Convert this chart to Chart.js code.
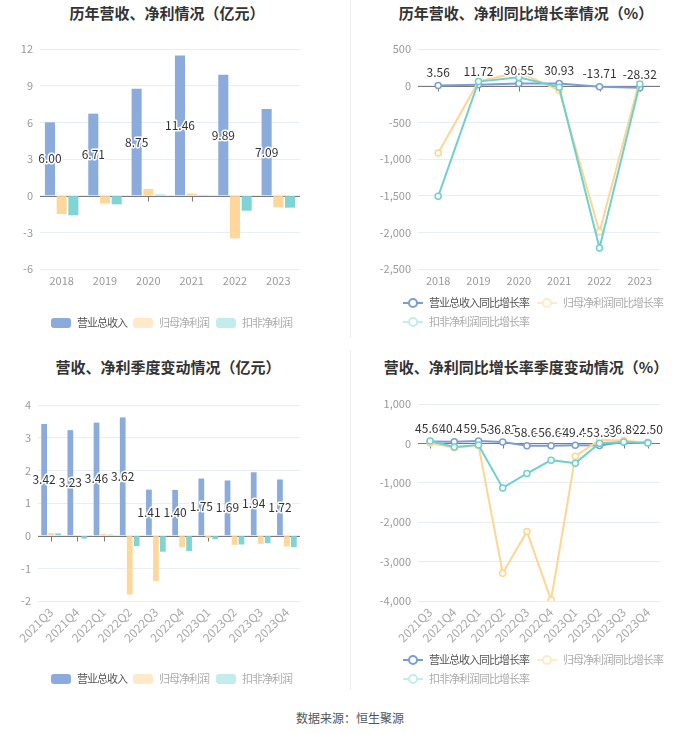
<!DOCTYPE html>
<html>
<head>
<meta charset="utf-8">
<script src="https://cdn.jsdelivr.net/npm/chart.js@4.4.1/dist/chart.umd.min.js"></script>
<style>
    body { margin: 0; width: 700px; height: 734px; background: #fff; position: relative; overflow: hidden;
           font-family: "Noto Sans CJK SC", "Noto Sans", sans-serif; }
    canvas { position: absolute; }
    .title { position: absolute; width: 340px; margin-left: -170px; text-align: center;
             font-size: 15px; font-weight: bold; color: #333; line-height: 20px; }
    .divider { position: absolute; left: 350px; width: 1px; background: #eeeeee; }
    .legend-item { position: absolute; font-size: 11px; letter-spacing: -1px; line-height: 14px; color: #aaa; white-space: nowrap; }
    .legend-item.on { color: #555; }
    .swatch { display: inline-block; width: 20px; height: 10px; border-radius: 3px; vertical-align: -1px; margin-right: 6px; }
    .lineicon { display: inline-block; position: relative; width: 20px; height: 10px; vertical-align: -1px; margin-right: 6px; }
    .lineicon i { position: absolute; left: 0; top: 4px; width: 20px; height: 2px; }
    .lineicon b { position: absolute; left: 5px; top: 0; width: 6px; height: 6px; border-radius: 50%; border: 2px solid; background: #fff; }
    .source { position: absolute; top: 709px; left: 0; width: 700px; text-align: center; font-size: 12px; color: #555; }
</style>
</head>
<body>
<div class="divider" style="top:0;height:338px"></div>
<div class="divider" style="top:350px;height:340px"></div>

<div class="title" style="left:167px;top:3px">历年营收、净利情况（亿元）</div>
<div class="title" style="left:526px;top:3px">历年营收、净利同比增长率情况（%）</div>
<div class="title" style="left:168px;top:357px">营收、净利季度变动情况（亿元）</div>
<div class="title" style="left:526px;top:357px">营收、净利同比增长率季度变动情况（%）</div>

<canvas id="yearBar" width="350" height="340" style="left:0;top:0"></canvas>
<canvas id="yearGrowth" width="350" height="340" style="left:350px;top:0"></canvas>
<canvas id="quarterBar" width="350" height="345" style="left:0;top:350px"></canvas>
<canvas id="quarterGrowth" width="350" height="345" style="left:350px;top:350px"></canvas>

<div id="legends"></div>
<div class="source">数据来源：恒生聚源</div>

<script>
// Annual data (亿元)
const years = ['2018', '2019', '2020', '2021', '2022', '2023'];
const revenue = [6.00, 6.71, 8.75, 11.46, 9.89, 7.09];
const netProfit = [-1.50, -0.65, 0.55, 0.18, -3.49, -0.95];
const deductedProfit = [-1.61, -0.71, 0.09, 0.06, -1.23, -0.98];

// Annual growth (%)
const revenueGrowth = [3.56, 11.72, 30.55, 30.93, -13.71, -28.32];
const netGrowth = [-918, 57, 184, -64, -1995, 80];
const deductedGrowth = [-1509, 56, 113, -20, -2214, 22];

// Quarterly data (亿元)
const quarters = ['2021Q3', '2021Q4', '2022Q1', '2022Q2', '2022Q3', '2022Q4', '2023Q1', '2023Q2', '2023Q3', '2023Q4'];
const qRevenue = [3.42, 3.23, 3.46, 3.62, 1.41, 1.40, 1.75, 1.69, 1.94, 1.72];
const qNetProfit = [0.08, 0.01, 0.05, -1.80, -1.39, -0.35, -0.07, -0.28, -0.25, -0.33];
const qDeductedProfit = [0.07, -0.09, 0.03, -0.32, -0.49, -0.47, -0.11, -0.27, -0.23, -0.35];

// Quarterly growth (%)
const qRevenueGrowth = [45.60, 40.49, 59.54, 36.83, -58.66, -56.63, -49.40, -53.35, 36.89, 22.50];
const qNetGrowth = [10, -110, -50, -3295, -2234, -3975, -323, 85, 76, 8];
const qDeductedGrowth = [60, -93, -42, -1130, -764, -425, -501, 5, 35, 10];

// Axis ticks
const yearBarTicks = { min: -6, max: 12, step: 3 };
const yearGrowthTicks = { min: -2500, max: 500, step: 500 };
const quarterBarTicks = { min: -2, max: 4, step: 1 };
const quarterGrowthTicks = { min: -4000, max: 1000, step: 1000 };

const seriesNames = ['营业总收入', '归母净利润', '扣非净利润'];
const growthNames = ['营业总收入同比增长率', '归母净利润同比增长率', '扣非净利润同比增长率'];

const FONT = '"Noto Sans CJK SC", "Noto Sans", sans-serif';
const colors = ['#8aabdb', '#ffd79a', '#7fd5d6'];
const lineColors = ['#7b9dd6', '#ffd591', '#6fd0d0'];
const fadedColors = ['#8aabdb', '#ffe9c9', '#c3ecec'];

// Zero line with little ticks at each category
const zeroAxis = {
    id: 'zeroAxis',
    beforeDatasetsDraw(chart) {
        const { ctx, chartArea, scales: { x, y } } = chart;
        const y0 = Math.round(y.getPixelForValue(0)) + 0.5;
        ctx.save();
        ctx.strokeStyle = '#7a7a7a';
        ctx.lineWidth = 1;
        ctx.beginPath();
        ctx.moveTo(chartArea.left, y0);
        ctx.lineTo(chartArea.right, y0);
        chart.data.labels.forEach((label, i) => {
            const px = Math.round(x.getPixelForValue(i)) + 0.5;
            ctx.moveTo(px, y0);
            ctx.lineTo(px, y0 + 5);
        });
        ctx.stroke();
        ctx.restore();
    }
};

// Value labels for the first series
const valueLabels = {
    id: 'valueLabels',
    afterDatasetsDraw(chart, args, opts) {
        const { ctx } = chart;
        const meta = chart.getDatasetMeta(0);
        const values = chart.data.datasets[0].data;
        ctx.save();
        ctx.font = '12px ' + FONT;
        ctx.textAlign = 'center';
        ctx.textBaseline = 'middle';
        ctx.lineJoin = 'round';
        meta.data.forEach((el, i) => {
            const py = opts.mode === 'bar' ? (el.y + el.base) / 2 : el.y - 13;
            const text = values[i].toFixed(2);
            ctx.strokeStyle = '#fff';
            ctx.lineWidth = 3;
            ctx.strokeText(text, el.x, py);
            ctx.fillStyle = '#333';
            ctx.fillText(text, el.x, py);
        });
        ctx.restore();
    }
};

function formatTick(v) {
    return v.toLocaleString('en-US');
}

function scalesFor(ticks, yWidth, xHeight, rotate) {
    return {
        x: {
            offset: true,
            grid: { display: false, drawTicks: false },
            border: { display: false },
            ticks: {
                color: rotate ? '#aaa' : '#999', font: { size: rotate ? 12 : 11, family: FONT }, padding: rotate ? 4 : 5,
                autoSkip: false, maxRotation: rotate ? 45 : 0, minRotation: rotate ? 45 : 0
            },
            afterFit: (scale) => { scale.height = xHeight; }
        },
        y: {
            min: ticks.min,
            max: ticks.max,
            grid: { color: '#e8ecf4', drawTicks: false },
            border: { display: false },
            ticks: {
                stepSize: ticks.step, color: '#999', font: { size: 11, family: FONT }, padding: 7,
                callback: (v) => formatTick(v)
            },
            afterFit: (scale) => { scale.width = yWidth; }
        }
    };
}

function drawBarChart(id, labels, series, ticks, layout, barOpts) {
    const ctx = document.getElementById(id).getContext('2d');
    return new Chart(ctx, {
        type: 'bar',
        data: {
            labels: labels,
            datasets: series.map((data, i) => ({
                label: seriesNames[i],
                data: data,
                backgroundColor: colors[i],
                categoryPercentage: barOpts.cat,
                barPercentage: barOpts.bar
            }))
        },
        options: {
            responsive: false,
            animation: false,
            layout: { padding: layout.padding },
            plugins: {
                legend: { display: false },
                tooltip: { enabled: false },
                valueLabels: { mode: 'bar' }
            },
            scales: scalesFor(ticks, layout.yWidth, layout.xHeight, layout.rotate)
        },
        plugins: [zeroAxis, valueLabels]
    });
}

function drawLineChart(id, labels, series, ticks, layout) {
    const ctx = document.getElementById(id).getContext('2d');
    return new Chart(ctx, {
        type: 'line',
        data: {
            labels: labels,
            datasets: series.map((data, i) => ({
                label: growthNames[i],
                data: data,
                borderColor: lineColors[i],
                backgroundColor: '#fff',
                borderWidth: 2,
                pointRadius: 3,
                pointBorderWidth: 1.5,
                pointBackgroundColor: '#fff',
                pointBorderColor: lineColors[i],
                tension: 0,
                order: 3 - i
            }))
        },
        options: {
            responsive: false,
            animation: false,
            layout: { padding: layout.padding },
            plugins: {
                legend: { display: false },
                tooltip: { enabled: false },
                valueLabels: { mode: 'line' }
            },
            scales: scalesFor(ticks, layout.yWidth, layout.xHeight, layout.rotate)
        },
        plugins: [zeroAxis, valueLabels]
    });
}

drawBarChart('yearBar', years, [revenue, netProfit, deductedProfit], yearBarTicks,
    { padding: { top: 49, left: 0, right: 50, bottom: 41 }, yWidth: 40, xHeight: 30, rotate: false },
    { cat: 0.81, bar: 0.86 });

drawLineChart('yearGrowth', years, [revenueGrowth, netGrowth, deductedGrowth], yearGrowthTicks,
    { padding: { top: 49, left: 0, right: 40, bottom: 41 }, yWidth: 68, xHeight: 30, rotate: false });

drawBarChart('quarterBar', quarters, [qRevenue, qNetProfit, qDeductedProfit], quarterBarTicks,
    { padding: { top: 55, left: 0, right: 50, bottom: 44 }, yWidth: 38, xHeight: 50, rotate: true },
    { cat: 0.8, bar: 0.82 });

drawLineChart('quarterGrowth', quarters, [qRevenueGrowth, qNetGrowth, qDeductedGrowth], quarterGrowthTicks,
    { padding: { top: 54, left: 0, right: 40, bottom: 44 }, yWidth: 68, xHeight: 50, rotate: true });

// HTML legends
function addBarLegend(top) {
    const xs = [51, 133, 216];
    seriesNames.forEach((name, i) => {
        const item = document.createElement('div');
        item.className = 'legend-item' + (i === 0 ? ' on' : '');
        item.style.left = xs[i] + 'px';
        item.style.top = (top - 7) + 'px';
        item.innerHTML = `<span class="swatch" style="background:${fadedColors[i]}"></span>${name}`;
        document.getElementById('legends').appendChild(item);
    });
}

function addLineLegend(top) {
    const pos = [[403, top], [537, top], [403, top + 19]];
    growthNames.forEach((name, i) => {
        const c = i === 0 ? lineColors[0] : fadedColors[i];
        const item = document.createElement('div');
        item.className = 'legend-item' + (i === 0 ? ' on' : '');
        item.style.left = pos[i][0] + 'px';
        item.style.top = (pos[i][1] - 7) + 'px';
        item.innerHTML = `<span class="lineicon"><i style="background:${c}"></i><b style="border-color:${c}"></b></span>${name}`;
        document.getElementById('legends').appendChild(item);
    });
}

addBarLegend(322);
addLineLegend(302);
addBarLegend(678);
addLineLegend(659);
</script>
</body>
</html>
